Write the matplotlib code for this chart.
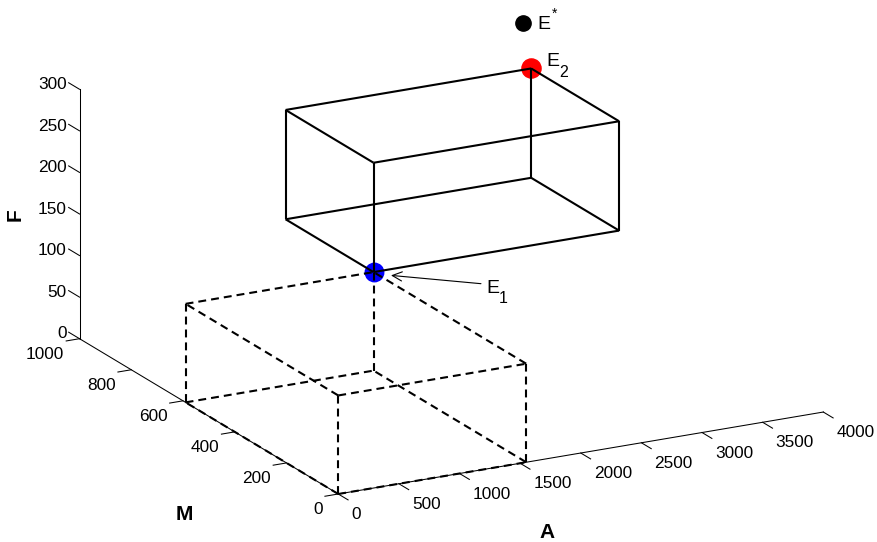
import itertools
import numpy as np
import matplotlib
matplotlib.use('Agg')
import matplotlib.pyplot as plt
from mpl_toolkits.mplot3d import proj3d

plt.rcParams['font.family'] = ['Liberation Sans', 'DejaVu Sans']

# ---------------- data ----------------
a_lim = (0, 4000)
m_lim = (0, 1000)
f_lim = (0, 300)
a_ticks = [0, 500, 1000, 1500, 2000, 2500, 3000, 3500, 4000]
m_ticks = [0, 200, 400, 600, 800, 1000]
f_ticks = [0, 50, 100, 150, 200, 250, 300]
E1 = (1550, 590, 118.5)
E2 = (3575, 930, 250)
E_star = (3560, 955, 300)

# ---------------- figure / view ----------------
W, H = 877, 542
fig = plt.figure(figsize=(W / 100, H / 100), dpi=100)
ax = fig.add_axes([0, 0, 1, 1], projection='3d', proj_type='ortho')
ax.set_xlim(*a_lim)
ax.set_ylim(*m_lim)
ax.set_zlim(*f_lim)
ax.set_box_aspect((1.0, 1.0053, 0.4792))
ax.view_init(elev=18.57, azim=-117.95)
ax.set_axis_off()
ax.computed_zorder = False


def to_disp(pts):
    pts = np.asarray(pts, float)
    M = ax.get_proj()
    xs, ys, _ = proj3d.proj_transform(pts[:, 0], pts[:, 1], pts[:, 2], M)
    return ax.transData.transform(np.column_stack([xs, ys]))


# place the axes so the axis frame lands where it is in the reference
ref3d = [(a_lim[0], m_lim[0], f_lim[0]), (a_lim[1], m_lim[0], f_lim[0]),
         (a_lim[0], m_lim[1], f_lim[0]), (a_lim[0], m_lim[1], f_lim[1])]
target = np.array([[338.3, H - 494.0], [823.3, H - 412.0],
                   [79.5, H - 338.7], [79.5, H - 89.3]])
for _ in range(3):
    fig.canvas.draw()
    cur = to_disp(ref3d)
    pc, qc = cur.mean(0), target.mean(0)
    dc, dq = cur - pc, target - qc
    s = (dc * dq).sum() / (dc * dc).sum()
    bb = ax.get_position(original=True)
    c0 = qc + s * (np.array([bb.x0 * W, bb.y0 * H]) - pc)
    c1 = qc + s * (np.array([bb.x1 * W, bb.y1 * H]) - pc)
    ax.set_position([c0[0] / W, c0[1] / H, (c1[0] - c0[0]) / W, (c1[1] - c0[1]) / H])
fig.canvas.draw()

# ---------------- axes lines & ticks ----------------
AX_LW = 0.75
ax.plot(a_lim, [m_lim[0]] * 2, [f_lim[0]] * 2, color='k', lw=AX_LW, zorder=3)
ax.plot([a_lim[0]] * 2, m_lim, [f_lim[0]] * 2, color='k', lw=AX_LW, zorder=3)
ax.plot([a_lim[0]] * 2, [m_lim[1]] * 2, f_lim, color='k', lw=AX_LW, zorder=3)
for a in a_ticks:
    ax.plot([a, a], [m_lim[0], m_lim[0] - 38], [f_lim[0]] * 2, color='k', lw=AX_LW, zorder=3)
for m in m_ticks:
    ax.plot([a_lim[0], a_lim[0] - 110], [m, m], [f_lim[0]] * 2, color='k', lw=AX_LW, zorder=3)
for f in f_ticks:
    ax.plot([a_lim[0]] * 2, [m_lim[1], m_lim[1] + 42], [f, f], color='k', lw=AX_LW, zorder=3)


# ---------------- boxes ----------------
def box_edges(lo, hi):
    corners = list(itertools.product(*zip(lo, hi)))
    edges = []
    for p, q in itertools.combinations(corners, 2):
        if sum(pi != qi for pi, qi in zip(p, q)) == 1:
            edges.append((p, q))
    return edges


for p, q in box_edges((a_lim[0], m_lim[0], f_lim[0]), E1):
    ax.plot([p[0], q[0]], [p[1], q[1]], [p[2], q[2]], color='k', lw=1.5,
            linestyle=(0, (3.8, 2.4)), dash_capstyle='butt', zorder=4)
for p, q in box_edges(E1, E2):
    ax.plot([p[0], q[0]], [p[1], q[1]], [p[2], q[2]], color='k', lw=1.5,
            solid_capstyle='butt', zorder=4)

# ---------------- equilibrium points ----------------
ax.plot([E1[0]], [E1[1]], [E1[2]], 'o', color='#0000ff', mec='#0000ff', ms=13.3, zorder=2)
ax.plot([E2[0]], [E2[1]], [E2[2]], 'o', color='#ff0000', mec='#ff0000', ms=13.8, zorder=2)
ax.plot([E_star[0]], [E_star[1]], [E_star[2]], 'o', color='k', mec='k', ms=11, zorder=2)


# ---------------- text ----------------
def ann(pt, txt, dx, dy, **kw):
    """text anchored at a 3D point, offset by (dx, dy) pixels (dy down)."""
    d = to_disp([pt])[0]
    xy = ax.transData.inverted().transform(d)
    return ax.annotate(txt, xy=xy, xycoords='data', xytext=(dx * 0.72, -dy * 0.72),
                       textcoords='offset points', annotation_clip=False, **kw)


TFS = 12.4
for a in a_ticks:
    ann((a, m_lim[0], f_lim[0]), str(a), 13.0, 25.0, ha='left', va='baseline', fontsize=TFS)
for m in m_ticks:
    ann((a_lim[0], m, f_lim[0]), str(m), -15.5, 20.2, ha='right', va='baseline', fontsize=TFS)
for f in f_ticks:
    ann((a_lim[0], m_lim[1], f), str(f), -13.0, -0.3, ha='right', va='baseline', fontsize=TFS)

EFS, SFS = 14, 11.5
ann(E_star, 'E', 14.2, 6.0, ha='left', va='baseline', fontsize=EFS)
ann(E_star, '*', 28.8, -6.0, ha='left', va='baseline', fontsize=10)
ann(E2, 'E', 14.8, -2.3, ha='left', va='baseline', fontsize=EFS)
ann(E2, '2', 28.3, 8.3, ha='left', va='baseline', fontsize=SFS)
ann(E1, 'E', 112.5, 21.0, ha='left', va='baseline', fontsize=EFS)
ann(E1, '1', 125.0, 30.6, ha='left', va='baseline', fontsize=SFS)

# arrow pointing to E1
d1 = to_disp([E1])[0]
tip = ax.transData.inverted().transform(d1 + np.array([17.4, -3.3]))
tail = ax.transData.inverted().transform(d1 + np.array([107.4, -11.6]))
ax.annotate('', xy=tip, xytext=tail, xycoords='data', textcoords='data',
            annotation_clip=False,
            arrowprops=dict(arrowstyle='->,head_length=0.7,head_width=0.33',
                            lw=0.8, color='k', shrinkA=0, shrinkB=0))

# axis labels
fig.text(15 / W, 1 - 215 / H, 'F', rotation=90, ha='center', va='center',
         fontsize=15, fontweight='bold')
fig.text(184.7 / W, 1 - 515 / H, 'M', ha='center', va='center', fontsize=15, fontweight='bold')
fig.text(547.5 / W, 1 - 532 / H, 'A', ha='center', va='center', fontsize=15, fontweight='bold')

fig.savefig('out.png', dpi=100)
